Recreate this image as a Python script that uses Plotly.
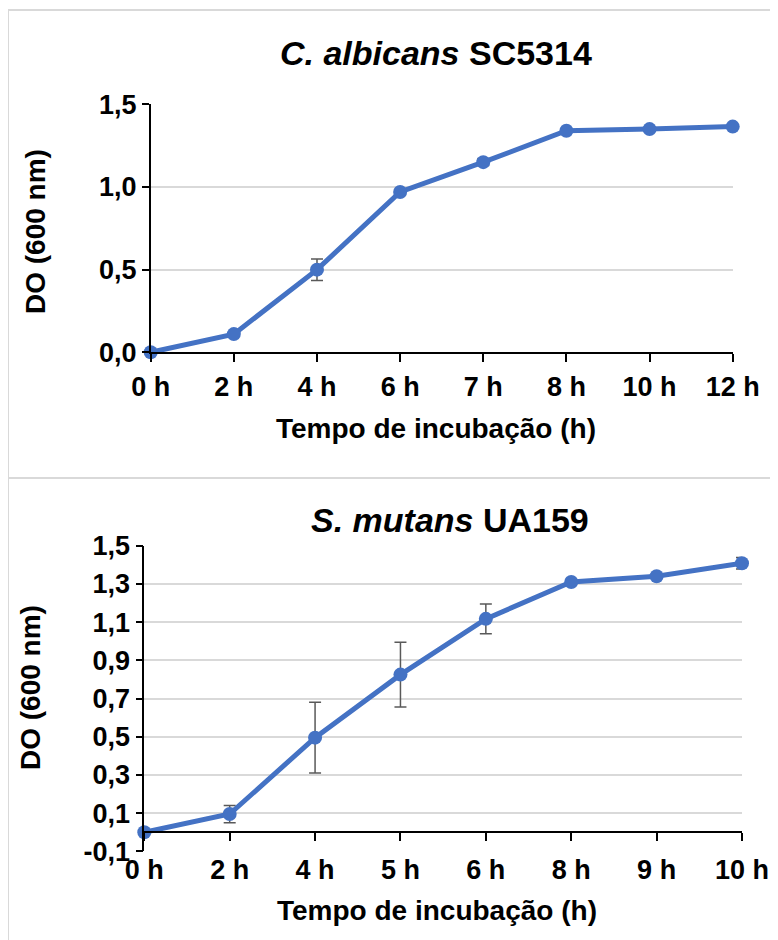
import plotly.graph_objects as go

# ---- data ----
ca_times = ["0 h", "2 h", "4 h", "6 h", "7 h", "8 h", "10 h", "12 h"]
ca_od = [0.0, 0.11, 0.50, 0.97, 1.15, 1.34, 1.35, 1.365]
ca_err = [0.0, 0.0, 0.065, 0.0, 0.02, 0.0, 0.0, 0.0]

sm_times = ["0 h", "2 h", "4 h", "5 h", "6 h", "8 h", "9 h", "10 h"]
sm_od = [0.0, 0.095, 0.495, 0.825, 1.117, 1.31, 1.34, 1.408]
sm_err = [0.0, 0.045, 0.185, 0.17, 0.078, 0.0, 0.0, 0.03]

ca_yticks = [0.0, 0.5, 1.0, 1.5]
sm_yticks = [-0.1, 0.1, 0.3, 0.5, 0.7, 0.9, 1.1, 1.3, 1.5]

W, H = 778, 940
OFF = 8  # page body margin
FONT = "Liberation Sans, Arial, sans-serif"
BLUE = "#4472C4"
GRID = "#d9d9d9"
ERRC = "#595959"

def px_x(v):
    return (v - OFF) / W

def px_y(v):
    return 1 - (v - OFF) / H

def fmt(v):
    return f"{v:.1f}".replace(".", ",")

top_dom_x = [px_x(150.7), px_x(732.7)]
top_dom_y = [px_y(352.3), px_y(104.3)]
bot_dom_x = [px_x(144.3), px_x(742.0)]
bot_dom_y = [px_y(851.3), px_y(545.7)]

ca_idx = list(range(len(ca_times)))
sm_idx = list(range(len(sm_times)))

fig = go.Figure()

line_style = dict(color=BLUE, width=5)
marker_style = dict(color=BLUE, size=14)

fig.add_trace(go.Scatter(
    x=ca_idx, y=ca_od, mode="lines+markers", line=line_style, marker=marker_style,
    error_y=dict(type="data", array=ca_err, color=ERRC, thickness=1.5, width=6),
    cliponaxis=False, xaxis="x", yaxis="y", showlegend=False))

fig.add_trace(go.Scatter(
    x=sm_idx, y=sm_od, mode="lines+markers", line=line_style, marker=marker_style,
    error_y=dict(type="data", array=sm_err, color=ERRC, thickness=1.5, width=6),
    cliponaxis=False, xaxis="x2", yaxis="y2", showlegend=False))

# invisible trace to carry the zero-crossing x axis of the bottom chart
fig.add_trace(go.Scatter(
    x=sm_idx, y=sm_od, mode="markers", marker=dict(opacity=0), hoverinfo="skip",
    xaxis="x3", yaxis="y2", showlegend=False))

tick_font = dict(family=FONT, size=27, color="black", weight="bold")

# position of y=0 within bottom plot (paper coords)
y0_frac = (0 - sm_yticks[0]) / (sm_yticks[-1] - sm_yticks[0])
zero_pos = bot_dom_y[0] + y0_frac * (bot_dom_y[1] - bot_dom_y[0])

fig.update_layout(
    width=W, height=H,
    margin=dict(l=0, r=0, t=0, b=0, autoexpand=False),
    paper_bgcolor="white", plot_bgcolor="white",
    font=dict(family=FONT, color="black"),
    xaxis=dict(domain=top_dom_x, anchor="y", range=[0, len(ca_times) - 1],
               tickvals=ca_idx, ticktext=ca_times, showgrid=False, zeroline=False,
               showline=True, linecolor="black", linewidth=1.5,
               ticks="outside", ticklen=8, tickwidth=1.5, tickcolor="black",
               tickfont=tick_font, ticklabelstandoff=2, automargin=False),
    yaxis=dict(domain=top_dom_y, anchor="x", range=[ca_yticks[0], ca_yticks[-1]],
               tickvals=ca_yticks, ticktext=[fmt(v) for v in ca_yticks],
               showgrid=True, gridcolor=GRID,
               gridwidth=1.5, zeroline=False, showline=True, linecolor="black",
               linewidth=1.5, ticks="outside", ticklen=7, tickwidth=1.5,
               tickcolor="black", tickfont=tick_font, automargin=False),
    xaxis2=dict(domain=bot_dom_x, anchor="y2", range=[0, len(sm_times) - 1],
                tickvals=sm_idx, ticktext=sm_times, showgrid=False, zeroline=False,
                showline=False, ticks="", tickfont=tick_font, automargin=False),
    yaxis2=dict(domain=bot_dom_y, anchor="x2", range=[sm_yticks[0], sm_yticks[-1]],
                tickvals=sm_yticks, ticktext=[fmt(v) for v in sm_yticks],
                showgrid=True, gridcolor=GRID,
                gridwidth=1.5, zeroline=False, showline=True, linecolor="black",
                linewidth=1.5, ticks="outside", ticklen=7, tickwidth=1.5,
                tickcolor="black", tickfont=tick_font, automargin=False),
    xaxis3=dict(overlaying="x2", anchor="free", position=zero_pos,
                range=[0, len(sm_times) - 1], tickvals=sm_idx, showticklabels=False,
                showgrid=False, zeroline=False, showline=True, linecolor="black",
                linewidth=1.5, ticks="outside", ticklen=8, tickwidth=1.5,
                tickcolor="black", automargin=False),
)

# panel borders
fig.add_shape(type="rect", xref="paper", yref="paper",
              x0=px_x(8), x1=px_x(800), y0=px_y(478), y1=px_y(10),
              line=dict(color=GRID, width=2), fillcolor="rgba(0,0,0,0)", layer="below")
fig.add_shape(type="rect", xref="paper", yref="paper",
              x0=px_x(8), x1=px_x(800), y0=px_y(980), y1=px_y(478),
              line=dict(color=GRID, width=2), fillcolor="rgba(0,0,0,0)", layer="below")

title_font = dict(family=FONT, size=34, color="black")
axis_title_font = dict(family=FONT, size=28, color="black")

annos = [
    dict(text="<b><i>C. albicans</i> SC5314</b>", x=px_x(436), y=px_y(53), font=title_font),
    dict(text="<b><i>S. mutans</i> UA159</b>", x=px_x(450), y=px_y(520), font=title_font),
    dict(text="<b>Tempo de incubação (h)</b>", x=px_x(436), y=px_y(428), font=axis_title_font),
    dict(text="<b>Tempo de incubação (h)</b>", x=px_x(437), y=px_y(910), font=axis_title_font),
    dict(text="<b>DO (600 nm)</b>", x=px_x(35), y=px_y(232), font=axis_title_font, textangle=-90),
    dict(text="<b>DO (600 nm)</b>", x=px_x(30), y=px_y(688), font=axis_title_font, textangle=-90),
]
for a in annos:
    fig.add_annotation(xref="paper", yref="paper", showarrow=False,
                       xanchor="center", yanchor="middle", **a)

fig.write_html("out.html")
